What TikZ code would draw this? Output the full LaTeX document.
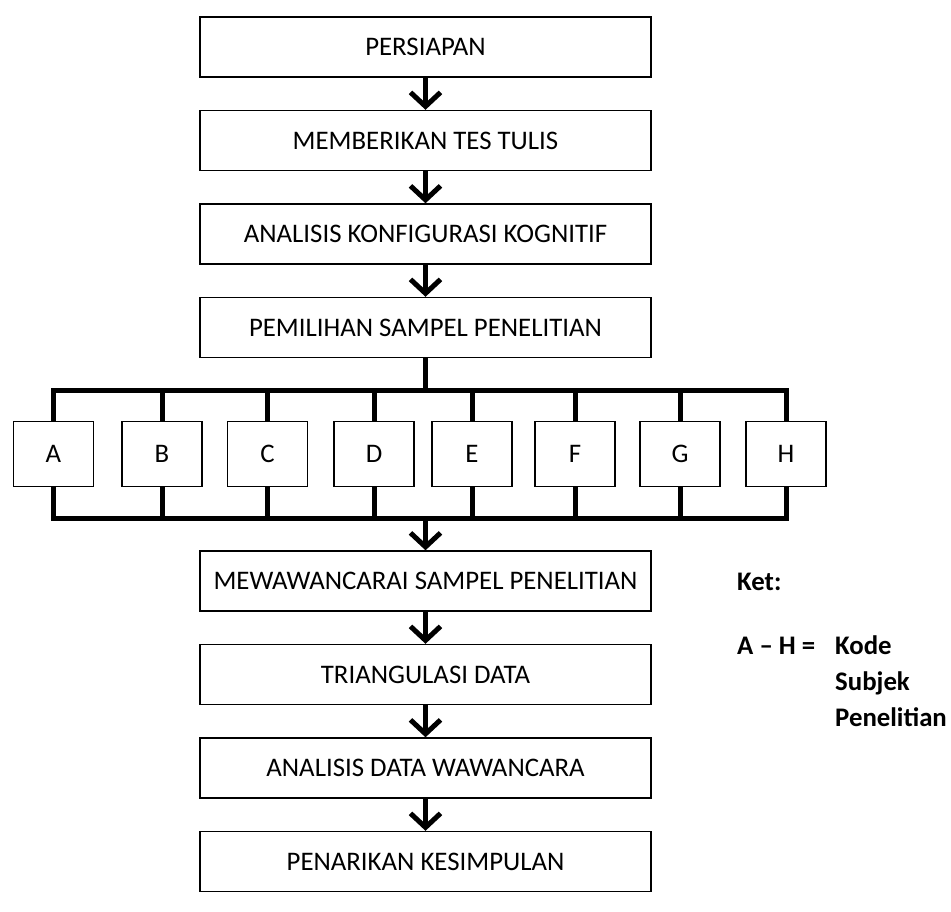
\documentclass[tikz,border=0pt]{standalone}
\usepackage{fontspec}
\setmainfont{Carlito}
\usetikzlibrary{arrows.meta}

\begin{document}
\begin{tikzpicture}[x=1pt,y=-1pt]
    \tikzstyle{every node}=[font=\fontsize{26.8}{33}\selectfont]
    \tikzstyle{stepbox}=[draw, line width=1.4pt, minimum width=451pt, minimum height=60pt, inner sep=0pt]
    \tikzstyle{codebox}=[draw, line width=1.4pt, minimum width=80pt, minimum height=65pt, inner sep=0pt]
    \tikzstyle{keytext}=[anchor=base west, inner sep=0pt, font=\fontsize{26.8}{33}\selectfont\bfseries]
    \tikzstyle{bus}=[line width=5pt]
    \tikzstyle{arr}=[line width=5pt, -{Straight Barb[length=14pt,width=30pt]}]
    \useasboundingbox (0,0) rectangle (951,912);

    % Steps before the sample
    \node[stepbox] (s1) at (425.5,47) {PERSIAPAN};
    \node[stepbox] (s2) at (425.5,140.5) {MEMBERIKAN TES TULIS};
    \node[stepbox] (s3) at (425.5,234) {ANALISIS KONFIGURASI KOGNITIF};
    \node[stepbox] (s4) at (425.5,327.5) {PEMILIHAN SAMPEL PENELITIAN};
    \draw[arr] (s1) -- (s2);
    \draw[arr] (s2) -- (s3);
    \draw[arr] (s3) -- (s4);

    % Subject codes A to H
    \node[codebox] (A) at (53.5,454) {A};
    \node[codebox] (B) at (162,454) {B};
    \node[codebox] (C) at (267.5,454) {C};
    \node[codebox] (D) at (374,454) {D};
    \node[codebox] (E) at (472,454) {E};
    \node[codebox] (F) at (575,454) {F};
    \node[codebox] (G) at (680,454) {G};
    \node[codebox] (H) at (786,454) {H};
    \coordinate (bustop) at (425.5,390);
    \coordinate (busbot) at (425.5,518);
    \draw[bus] (s4.south) -- (s4.south |- bustop);
    \draw[bus] (A.north) -- (A.north |- bustop) -- (H.north |- bustop) -- (H.north);
    \draw[bus] (A.south) -- (A.south |- busbot) -- (H.south |- busbot) -- (H.south);
    \foreach \c in {B,C,D,E,F,G} {
        \draw[bus] (\c.north) -- (\c.north |- bustop);
        \draw[bus] (\c.south) -- (\c.south |- busbot);
    }

    % Steps after the sample
    \node[stepbox] (s5) at (425.5,581) {MEWAWANCARAI SAMPEL PENELITIAN};
    \node[stepbox] (s6) at (425.5,674.5) {TRIANGULASI DATA};
    \node[stepbox] (s7) at (425.5,768) {ANALISIS DATA WAWANCARA};
    \node[stepbox] (s8) at (425.5,861.5) {PENARIKAN KESIMPULAN};
    \draw[arr] (s5.north |- busbot) -- (s5.north);
    \draw[arr] (s5) -- (s6);
    \draw[arr] (s6) -- (s7);
    \draw[arr] (s7) -- (s8);

    % Key
    \node[keytext] (ket) at (737,590) {Ket:};
    \node[keytext] (keyAH) at (737,654) {A -- H =};
    \node[keytext] (kode) at (835,654) {Kode};
    \node[keytext] (subjek) at (835,690) {Subjek};
    \node[keytext] (penelitian) at (835,726) {Penelitian};

\end{tikzpicture}
\end{document}
